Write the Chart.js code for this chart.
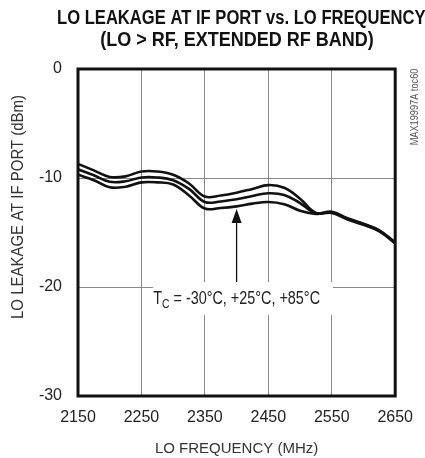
<!DOCTYPE html>
<html>
<head>
<meta charset="utf-8">
<script src="https://cdn.jsdelivr.net/npm/chart.js@4"></script>
<style>
  body { margin: 0; background: #fff; }
  #wrap { width: 425px; height: 458px; position: relative; }
</style>
</head>
<body>
<div id="wrap"><canvas id="chart"></canvas></div>
<script>
// LO frequency (MHz)
const freqMHz = [2150, 2175, 2200, 2225, 2250, 2275, 2300, 2325, 2350, 2375, 2400,
                 2425, 2450, 2475, 2500, 2525, 2550, 2575, 2600, 2625, 2650];
// LO leakage at IF port (dBm), three case temperatures
const leakUpper = [-8.7, -9.3, -9.9, -9.85, -9.4, -9.4, -9.7, -10.5, -11.7, -11.6, -11.35,
                   -11.0, -10.65, -10.9, -11.9, -13.2, -13.1, -13.7, -14.2, -14.8, -15.9];
const leakMiddle = [-9.2, -9.75, -10.35, -10.3, -9.95, -9.95, -10.2, -11.0, -12.2, -12.15, -11.95,
                    -11.65, -11.4, -11.55, -12.3, -13.25, -13.15, -13.75, -14.25, -14.85, -15.95];
const leakLower = [-9.7, -10.2, -10.85, -10.8, -10.4, -10.4, -10.6, -11.6, -12.8, -12.75, -12.6,
                   -12.35, -12.2, -12.4, -13.0, -13.3, -13.2, -13.8, -14.3, -14.9, -16.0];
const xTicks = [2150, 2250, 2350, 2450, 2550, 2650];
const yTicks = [0, -10, -20, -30];

const fam = '"Liberation Sans", Arial, sans-serif';

function toPoints(ys) {
    return freqMHz.map((f, i) => ({ x: f, y: ys[i] }));
}

function lineSet(label, ys) {
    return {
        label: label,
        data: toPoints(ys),
        borderColor: '#111',
        borderWidth: 2.6,
        pointRadius: 0,
        tension: 0.4,
        fill: false
    };
}

// text squeezed horizontally, to mimic the condensed face of the original
function squeezed(ctx, text, x, y, sx, align) {
    ctx.save();
    ctx.translate(x, y);
    ctx.scale(sx, 1);
    ctx.textAlign = align || 'center';
    ctx.fillText(text, 0, 0);
    ctx.restore();
}

const extras = {
    id: 'extras',
    afterDraw(chart) {
        const ctx = chart.ctx;
        const a = chart.chartArea;
        const xs = chart.scales.x, ys = chart.scales.y;
        ctx.save();

        // frame
        ctx.strokeStyle = '#111';
        ctx.lineWidth = 3;
        ctx.strokeRect(a.left, a.top, a.right - a.left, a.bottom - a.top);

        // title
        ctx.fillStyle = '#111';
        ctx.textBaseline = 'middle';
        ctx.font = 'bold 20px ' + fam;
        squeezed(ctx, 'LO LEAKAGE AT IF PORT vs. LO FREQUENCY', 57, 18, 0.83, 'left');
        squeezed(ctx, '(LO > RF, EXTENDED RF BAND)', 237, 40, 0.9);

        // y axis title
        ctx.font = '17px ' + fam;
        ctx.fillStyle = '#333';
        ctx.save();
        ctx.translate(18, 207);
        ctx.rotate(-Math.PI / 2);
        squeezed(ctx, 'LO LEAKAGE AT IF PORT (dBm)', 0, 0, 0.88);
        ctx.restore();

        // side code
        ctx.save();
        ctx.font = '10px ' + fam;
        ctx.fillStyle = '#555';
        ctx.translate(415, 107);
        ctx.rotate(-Math.PI / 2);
        squeezed(ctx, 'MAX19997A toc60', 0, 0, 0.92);
        ctx.restore();

        // annotation
        const ax = xs.getPixelForValue(2400);
        const tipY = ys.getPixelForValue(-12.85);
        const ty = ys.getPixelForValue(-20) + 12;
        ctx.fillStyle = '#fff';
        ctx.fillRect(153, ty - 17, 180, 33);
        ctx.strokeStyle = '#111';
        ctx.lineWidth = 1.3;
        ctx.beginPath();
        ctx.moveTo(ax, tipY + 10);
        ctx.lineTo(ax, ty - 17);
        ctx.stroke();
        ctx.fillStyle = '#111';
        ctx.beginPath();
        ctx.moveTo(ax, tipY);
        ctx.lineTo(ax - 5, tipY + 14);
        ctx.lineTo(ax + 5, tipY + 14);
        ctx.closePath();
        ctx.fill();

        const k = 0.8;
        ctx.fillStyle = '#222';
        ctx.font = '18px ' + fam;
        const p1 = 'T', sub = 'C', p2 = ' = -30\u00B0C, +25\u00B0C, +85\u00B0C';
        const w1 = ctx.measureText(p1).width * k;
        const w2 = ctx.measureText(p2).width * k;
        ctx.font = '13px ' + fam;
        const ws = ctx.measureText(sub).width * k;
        const sx = ax - (w1 + ws + w2) / 2;
        ctx.font = '18px ' + fam;
        squeezed(ctx, p1, sx, ty, k, 'left');
        squeezed(ctx, p2, sx + w1 + ws, ty, k, 'left');
        ctx.font = '13px ' + fam;
        squeezed(ctx, sub, sx + w1, ty + 5, k, 'left');
        ctx.restore();
    }
};

new Chart(document.getElementById('chart').getContext('2d'), {
    type: 'line',
    data: {
        datasets: [
            lineSet('upper', leakUpper),
            lineSet('middle', leakMiddle),
            lineSet('lower', leakLower)
        ]
    },
    options: {
        responsive: true,
        maintainAspectRatio: false,
        animation: false,
        layout: { padding: { top: 69, right: 17, left: 0, bottom: 0 } },
        plugins: {
            legend: { display: false },
            tooltip: { enabled: false }
        },
        scales: {
            x: {
                type: 'linear',
                min: 2150,
                max: 2650,
                afterBuildTicks: s => { s.ticks = xTicks.map(v => ({ value: v })); },
                afterFit: s => { s.height = 62; },
                ticks: {
                    color: '#222',
                    font: { family: fam, size: 16 },
                    padding: 12,
                    maxRotation: 0,
                    callback: v => String(v)
                },
                grid: { color: '#888', lineWidth: 1, drawTicks: false },
                border: { display: false },
                title: {
                    display: true,
                    text: 'LO FREQUENCY (MHz)',
                    color: '#333',
                    font: { family: fam, size: 15 },
                    padding: { top: 2, bottom: 0 }
                }
            },
            y: {
                min: -30,
                max: 0,
                afterBuildTicks: s => { s.ticks = yTicks.map(v => ({ value: v })); },
                afterFit: s => { s.width = 78; },
                ticks: { color: '#222', font: { family: fam, size: 16 }, padding: 16 },
                grid: { color: '#888', lineWidth: 1, drawTicks: false },
                border: { display: false }
            }
        }
    },
    plugins: [extras]
});
</script>
</body>
</html>
